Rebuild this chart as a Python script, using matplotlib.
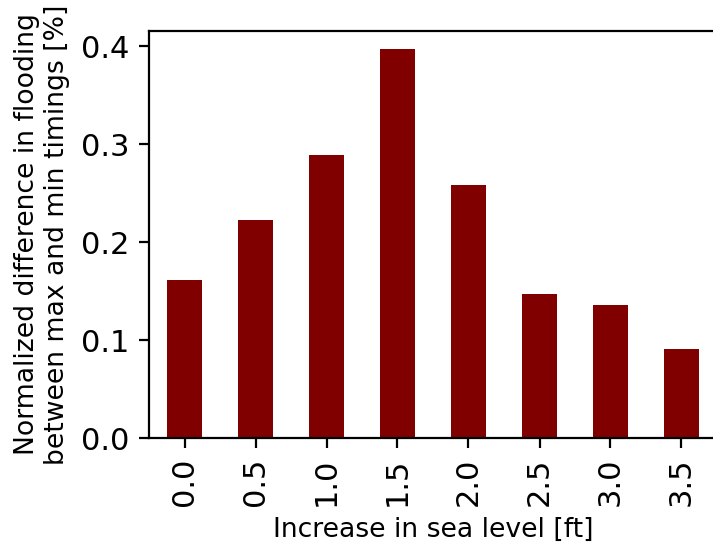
import matplotlib
matplotlib.use("Agg")
import matplotlib.pyplot as plt
import numpy as np

categories = ["0.0", "0.5", "1.0", "1.5", "2.0", "2.5", "3.0", "3.5"]
values = [0.161, 0.223, 0.289, 0.397, 0.258, 0.147, 0.136, 0.091]

dpi = 200
fig = plt.figure(figsize=(713 / dpi, 544 / dpi), dpi=dpi)
W, H = 713, 544
ax = fig.add_axes([149 / W, (H - 438) / H, (717 - 149) / W, (438 - 31) / H])

x = np.arange(len(categories))
ax.bar(x, values, width=0.5, color="maroon")
ax.set_xlim(-0.5, len(categories) - 0.5)
ax.set_ylim(0, 0.4155)
ax.set_xticks(x)
ax.set_xticklabels(categories, rotation=90, fontsize=11)
ax.set_yticks([0.0, 0.1, 0.2, 0.3, 0.4])
ax.set_yticklabels(["0.0", "0.1", "0.2", "0.3", "0.4"], fontsize=11)
ax.set_xlabel("Increase in sea level [ft]", fontsize=9.6)
ax.set_ylabel("Normalized difference in flooding\nbetween max and min timings [%]", fontsize=9.6)

fig.savefig("out.png", dpi=dpi)
